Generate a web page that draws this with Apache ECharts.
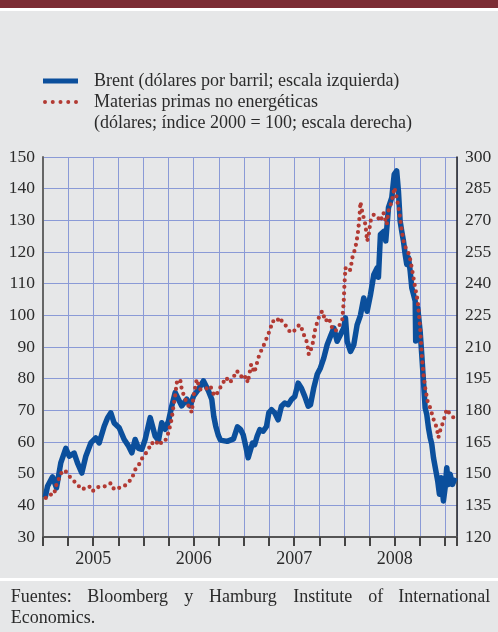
<!DOCTYPE html>
<html>
<head>
<meta charset="utf-8">
<script src="https://cdn.jsdelivr.net/npm/echarts@6/dist/echarts.min.js"></script>
<style>
    html, body { margin: 0; padding: 0; background: #e6e7e8; }
    #grafico { width: 498px; height: 632px; }
</style>
</head>
<body>
<div id="grafico"></div>
<script>
// fechas en años decimales
const brentFecha = [
    2005.022, 2005.045, 2005.095, 2005.134, 2005.177, 2005.227, 2005.261, 2005.310, 2005.343, 2005.386,
    2005.426, 2005.476, 2005.525, 2005.559, 2005.609, 2005.642, 2005.675, 2005.708, 2005.758, 2005.808,
    2005.851, 2005.884, 2005.917, 2005.950, 2005.983, 2006.017, 2006.067, 2006.116, 2006.149, 2006.182,
    2006.216, 2006.249, 2006.282, 2006.315, 2006.348, 2006.381, 2006.431, 2006.465, 2006.498, 2006.547,
    2006.597, 2006.647, 2006.680, 2006.700, 2006.719, 2006.746, 2006.766, 2006.833, 2006.896, 2006.935,
    2006.965, 2006.992, 2007.018, 2007.042, 2007.058, 2007.085, 2007.107, 2007.131, 2007.157, 2007.191,
    2007.224, 2007.247, 2007.274, 2007.306, 2007.340, 2007.373, 2007.406, 2007.440, 2007.473, 2007.506,
    2007.539, 2007.572, 2007.605, 2007.639, 2007.662, 2007.694, 2007.728, 2007.761, 2007.794, 2007.828,
    2007.861, 2007.894, 2007.927, 2007.960, 2007.993, 2008.010, 2008.027, 2008.060, 2008.093, 2008.126,
    2008.159, 2008.192, 2008.226, 2008.259, 2008.292, 2008.325, 2008.338, 2008.358, 2008.391, 2008.411,
    2008.438, 2008.471, 2008.495, 2008.520, 2008.537, 2008.554, 2008.570, 2008.587, 2008.604, 2008.620,
    2008.637, 2008.654, 2008.670, 2008.687, 2008.704, 2008.709, 2008.729, 2008.753, 2008.769, 2008.786,
    2008.803, 2008.819, 2008.836, 2008.853, 2008.869, 2008.886, 2008.903, 2008.928, 2008.945, 2008.962,
    2008.985, 2009.002, 2009.018, 2009.035, 2009.052, 2009.075, 2009.102
]
const brentValor = [
    42.5, 46, 49, 45.5, 53.4, 58, 55.5, 56.5, 53.4, 50.2,
    55.5, 59.7, 61.3, 59.7, 65, 67.6, 69.2, 66, 64.5, 60.8,
    58.7, 56.6, 60.8, 58, 57.7, 60.8, 67.7, 61.9, 60.5, 66.1,
    64, 66.6, 71.4, 75.6, 73.5, 71.4, 73.5, 71.4, 74.5, 76.6,
    79.3, 76.1, 73.4, 68, 65, 62, 60.6, 60.2, 61, 64.8,
    64, 62.3, 58.6, 55, 55.5, 59.7, 59.2, 61.8, 63.9, 63.4,
    64.9, 69.2, 70.2, 69.2, 67, 71.3, 72.3, 71.8, 73.4, 74.4,
    78.6, 77, 74.4, 71.3, 71.8, 77, 81.3, 83.4, 86.5, 90.7,
    93.4, 96, 91.8, 93.9, 96, 99.2, 91.8, 88.6, 90.7, 97,
    100, 105.5, 101.3, 106.5, 112.8, 115, 112, 125.5, 126.5, 123.5,
    134, 137.2, 144.5, 145.6, 139.3, 129.8, 126.6, 123.5, 119.3, 116.1,
    118.2, 114, 108.7, 106.6, 104.5, 91.9, 102.4, 95, 87.7, 79.3,
    70.8, 68.7, 64.5, 61.4, 59.3, 55, 55, 47.7, 43.5, 48.7,
    41.4, 45.6, 51.9, 46.6, 49.8, 46.6, 48.7
]
const materiasFecha = [
    2005.028, 2005.062, 2005.111, 2005.127, 2005.161, 2005.194, 2005.227, 2005.261, 2005.310, 2005.343,
    2005.386, 2005.426, 2005.460, 2005.493, 2005.525, 2005.575, 2005.625, 2005.675, 2005.708, 2005.758,
    2005.808, 2005.858, 2005.881, 2005.920, 2005.950, 2005.980, 2006.017, 2006.050, 2006.080, 2006.119,
    2006.149, 2006.179, 2006.216, 2006.249, 2006.279, 2006.299, 2006.315, 2006.331, 2006.365, 2006.381,
    2006.415, 2006.448, 2006.481, 2006.498, 2006.530, 2006.564, 2006.614, 2006.664, 2006.706, 2006.739,
    2006.773, 2006.823, 2006.856, 2006.889, 2006.922, 2006.955, 2006.988, 2007.022, 2007.038, 2007.072,
    2007.104, 2007.121, 2007.154, 2007.187, 2007.221, 2007.254, 2007.287, 2007.320, 2007.353, 2007.386,
    2007.420, 2007.453, 2007.486, 2007.535, 2007.562, 2007.595, 2007.629, 2007.645, 2007.679, 2007.711,
    2007.744, 2007.778, 2007.811, 2007.844, 2007.878, 2007.910, 2007.943, 2007.977, 2007.993, 2008.000,
    2008.010, 2008.027, 2008.060, 2008.077, 2008.109, 2008.132, 2008.149, 2008.159, 2008.176, 2008.209,
    2008.226, 2008.242, 2008.259, 2008.292, 2008.325, 2008.358, 2008.388, 2008.421, 2008.438, 2008.471,
    2008.498, 2008.520, 2008.544, 2008.564, 2008.587, 2008.620, 2008.644, 2008.670, 2008.704, 2008.729,
    2008.753, 2008.769, 2008.786, 2008.803, 2008.826, 2008.853, 2008.886, 2008.918, 2008.935, 2008.952,
    2008.985, 2009.018, 2009.052, 2009.085, 2009.102
]
const materiasValor = [
    138.5, 140.1, 140.1, 144, 147.9, 151.5, 151, 148.8, 146.4, 144.8,
    142.5, 143.3, 144, 141.6, 143.3, 144, 144, 145.5, 142.5, 143.3,
    144, 146.4, 147.3, 152.1, 153.8, 156.8, 159.2, 161.6, 164.7, 163.5,
    165.8, 164.3, 165.5, 169.5, 175.5, 182.1, 186.8, 193.1, 194.7, 189.9,
    185.3, 182.1, 179, 186.8, 194.7, 189.9, 189.9, 191.6, 186.8, 188.4,
    191.6, 195.5, 193.1, 194.7, 198.6, 197.9, 194.7, 196.2, 193.1, 201.8,
    197.9, 201, 206.6, 209.7, 213.6, 217.5, 222.3, 221.6, 224, 221.6,
    219.9, 217.5, 216.8, 219.9, 220.5, 215.9, 212, 206.4, 210.3, 219,
    223.8, 227, 222.2, 223.8, 219, 217.5, 219.8, 222.2, 231.6, 239.6,
    247.5, 245.9, 246.6, 252, 257, 263.3, 271, 278.7, 274.2, 267.9,
    260.1, 263.3, 269.6, 272.7, 272, 269.6, 273.6, 268, 274.5, 279,
    285.5, 280.8, 274.5, 267.3, 260.3, 255.5, 254, 247.5, 238, 231.8,
    219.2, 206.6, 197.1, 190.8, 184.5, 181.2, 175.8, 171.8, 167.1, 170.3,
    174.9, 180.5, 178.1, 176.6, 179
]
const anios = ['2005', '2006', '2007', '2008']
const nombreBrent = 'Brent (dólares por barril; escala izquierda)'
const nombreMaterias = 'Materias primas no energéticas'
const nombreMaterias2 = '(dólares; índice 2000 = 100; escala derecha)'
// texto de la fuente, justificado a mano
const fuentePalabras = [
    ['Fuentes:', 10.7], ['Bloomberg', 87.3], ['y', 184.3], ['Hamburg', 209],
    ['Institute', 293.3], ['of', 368.3], ['International', 398.3]
]

const fuente = 'Liberation Serif'
const colorTexto = '#2b2b2b'
const colorRejilla = '#8a9ad6'
const azul = '#0b4f9c'
const rojo = '#b23a33'

// iconos de la leyenda: barra llena y cinco puntos
const iconoBarra = 'path://M0,0L35,0L35,5L0,5Z'
const iconoPuntos = 'path://' + [2, 9.75, 17.5, 25.25, 33].map(c =>
    'M' + (c - 2) + ',2a2,2 0 1,0 4,0a2,2 0 1,0 -4,0').join('')

let grafico = echarts.init(document.getElementById('grafico'))

let textos = fuentePalabras.map(p => ({
    type: 'text', left: p[1], top: 588,
    style: { text: p[0], font: '18px "' + fuente + '"', fill: colorTexto }
}))
textos.push({
    type: 'text', left: 10.7, top: 609,
    style: { text: 'Economics.', font: '18px "' + fuente + '"', fill: colorTexto }
})

let option = {
    backgroundColor: '#e6e7e8',
    animation: false,
    graphic: [
        { type: 'rect', shape: { x: 0, y: 0, width: 498, height: 8 }, style: { fill: '#7b2c34' } },
        { type: 'rect', shape: { x: 0, y: 8, width: 498, height: 3 }, style: { fill: '#ffffff' } },
        { type: 'rect', shape: { x: 0, y: 578, width: 498, height: 3 }, style: { fill: '#ffffff' } },
        {
            type: 'text', left: 94, top: 114,
            style: { text: nombreMaterias2, font: '18px "' + fuente + '"', fill: colorTexto }
        },
        ...textos
    ],
    legend: {
        orient: 'vertical',
        left: 43,
        top: 71,
        padding: 0,
        itemWidth: 35,
        itemHeight: 14,
        itemGap: 1,
        symbolKeepAspect: true,
        textStyle: {
            fontFamily: fuente, fontSize: 18, color: colorTexto,
            lineHeight: 20, padding: [0, 0, 0, 11]
        },
        data: [
            { name: nombreBrent, icon: iconoBarra, itemStyle: { color: azul } },
            { name: nombreMaterias, icon: iconoPuntos, itemStyle: { color: rojo } }
        ]
    },
    grid: { left: 43, right: 41, top: 157, bottom: 95 },
    xAxis: {
        type: 'value',
        min: 2005,
        max: 2009.12,
        interval: 0.25,
        axisLine: { show: true, lineStyle: { color: '#555', width: 2 } },
        axisTick: { show: true, length: 9, lineStyle: { color: '#444', width: 2 } },
        splitLine: { show: true, lineStyle: { color: colorRejilla, width: 1 } },
        axisLabel: {
            margin: 13,
            fontFamily: fuente, fontSize: 18, color: colorTexto,
            formatter: function (v) {
                let i = Math.round((v - 2005.5) * 4)
                if (i % 4 === 0 && i >= 0 && i / 4 < anios.length) return anios[i / 4]
                return ''
            }
        }
    },
    yAxis: [
        {
            type: 'value',
            min: 30,
            max: 150,
            interval: 10,
            axisLine: { show: true, lineStyle: { color: '#666', width: 2 } },
            axisTick: { show: false },
            splitLine: { show: true, lineStyle: { color: colorRejilla, width: 1 } },
            axisLabel: { margin: 8, fontFamily: fuente, fontSize: 17.5, color: colorTexto }
        },
        {
            type: 'value',
            position: 'right',
            min: 120,
            max: 300,
            interval: 15,
            axisLine: { show: true, lineStyle: { color: '#222', width: 1.5 } },
            axisTick: { show: false },
            splitLine: { show: false },
            axisLabel: { margin: 8, fontFamily: fuente, fontSize: 17.5, color: colorTexto }
        }
    ],
    series: [
        {
            name: nombreBrent,
            type: 'line',
            yAxisIndex: 0,
            symbol: 'none',
            lineStyle: { color: azul, width: 5.5, join: 'round' },
            itemStyle: { color: azul },
            data: brentFecha.map((t, i) => [t, brentValor[i]])
        },
        {
            name: nombreMaterias,
            type: 'line',
            yAxisIndex: 1,
            symbol: 'none',
            lineStyle: { color: rojo, width: 4.2, type: [0, 6.5], cap: 'round' },
            itemStyle: { color: rojo },
            data: materiasFecha.map((t, i) => [t, materiasValor[i]])
        }
    ]
}
grafico.setOption(option)
</script>
</body>
</html>
